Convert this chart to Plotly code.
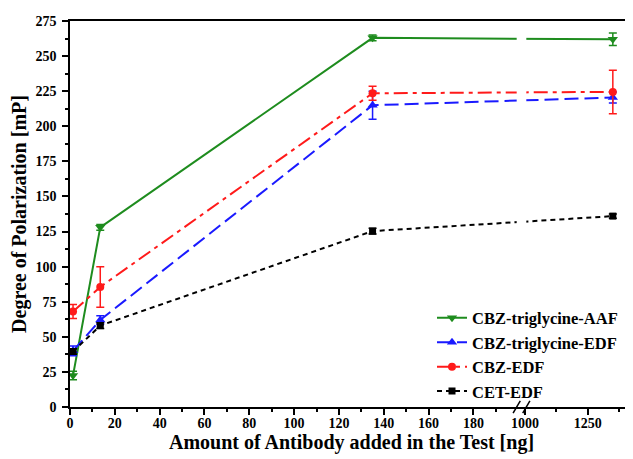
import plotly.graph_objects as go

# ---- data ----
amount_ng = [1.35, 13.5, 135, 1350]

aaf_names = "CBZ-triglycine-AAF"
aaf_vals = [22.5, 128, 263, 262]
aaf_err = [3, 2, 2, 4.5]

tri_edf_name = "CBZ-triglycine-EDF"
tri_edf_vals = [40, 62, 215, 220.5]
tri_edf_err = [3.5, 3, 10, 4]

cbz_edf_name = "CBZ-EDF"
cbz_edf_vals = [68, 85.5, 223.5, 224.5]
cbz_edf_err = [5, 14.5, 5, 15.5]

cet_edf_name = "CET-EDF"
cet_edf_vals = [39.5, 58, 125.3, 136]
cet_edf_err = [2, 2, 2, 1.5]

x_major_ticks = [0, 20, 40, 60, 80, 100, 120, 140, 160, 180, 1000, 1250]
x_minor_ticks = [10, 30, 50, 70, 90, 110, 130, 150, 170, 190, 1125, 1375]
y_ticks = [0, 25, 50, 75, 100, 125, 150, 175, 200, 225, 250, 275]

# ---- broken x-axis mapping (0-200 linear, then 1000+ compressed) ----
SEG1_END = 200
SEG2_START = 1000
SEG2_POS = 203.0
SEG2_SCALE = 0.112


def to_axis(x):
    if x <= SEG1_END:
        return x
    return SEG2_POS + (x - SEG2_START) * SEG2_SCALE


xd = [to_axis(v) for v in amount_ng]

FONT = "Liberation Serif, Times New Roman, serif"

series = [
    (aaf_names, aaf_vals, aaf_err, "#1e8c1e", "solid", "triangle-down", 9),
    (tri_edf_name, tri_edf_vals, tri_edf_err, "#1a1aff", "14px,6px", "triangle-up", 9),
    (cbz_edf_name, cbz_edf_vals, cbz_edf_err, "#ff1a1a", "14px,5px,4px,5px", "circle", 8),
    (cet_edf_name, cet_edf_vals, cet_edf_err, "#000000", "5px,4px", "square", 7),
]

fig = go.Figure()
for name, vals, err, col, dash, sym, size in series:
    fig.add_trace(go.Scatter(
        x=xd, y=vals, name=name, mode="lines+markers",
        line=dict(color=col, width=2, dash=dash),
        marker=dict(symbol=sym, size=size, color=col),
        error_y=dict(type="data", array=err, visible=True, color=col,
                     thickness=1.5, width=4),
    ))

# axis break: white gap through the lines and // marks on the axis
gap_lo, gap_hi = 199.3, 203.6
fig.add_shape(type="rect", xref="x", yref="y", x0=gap_lo, x1=gap_hi, y0=1, y1=273,
              fillcolor="white", line=dict(width=0), layer="above")
for xc in (gap_lo, gap_hi):
    fig.add_shape(type="line", xref="x", yref="paper",
                  x0=xc - 1.6, x1=xc + 1.6, y0=-0.016, y1=0.016,
                  line=dict(color="black", width=1.5), layer="above")

# the page body adds an 8px offset, so the figure is 8px smaller on each axis
fig.update_layout(
    width=625, height=451,
    margin=dict(l=62, r=0, t=13, b=52),
    paper_bgcolor="white", plot_bgcolor="white",
    font=dict(family=FONT, size=14, color="black", weight="bold"),
    showlegend=True,
    legend=dict(x=0.643, xanchor="left", y=-0.004, yanchor="bottom",
                bgcolor="rgba(0,0,0,0)", font=dict(size=16.5, family=FONT, weight="bold"),
                tracegroupgap=0),
    xaxis=dict(
        range=[0, 251.2],
        automargin=False,
        tickmode="array",
        tickvals=[to_axis(v) for v in x_major_ticks],
        ticktext=[str(v) for v in x_major_ticks],
        ticks="outside", ticklen=6, tickwidth=1.5, tickcolor="black",
        ticklabelstandoff=-4,
        minor=dict(tickmode="array", tickvals=[to_axis(v) for v in x_minor_ticks],
                   ticks="outside", ticklen=3, tickwidth=1.5, tickcolor="black"),
        showline=True, linecolor="black", linewidth=1.5, mirror=True,
        showgrid=False, zeroline=False,
        tickfont=dict(size=14, family=FONT, weight="bold"),
        title=dict(text="Amount of Antibody added in the Test [ng]",
                   font=dict(size=20, family=FONT, weight="bold"), standoff=2),
    ),
    yaxis=dict(
        range=[0, 275],
        automargin=False,
        tickmode="array", tickvals=y_ticks, ticktext=[str(v) for v in y_ticks],
        ticks="outside", ticklen=6, tickwidth=1.5, tickcolor="black",
        ticklabelstandoff=3,
        minor=dict(dtick=12.5, ticks="outside", ticklen=3, tickwidth=1.5, tickcolor="black"),
        showline=True, linecolor="black", linewidth=1.5, mirror=True,
        showgrid=False, zeroline=False,
        tickfont=dict(size=14, family=FONT, weight="bold"),
        title=dict(text="Degree of Polarization [mP]",
                   font=dict(size=20, family=FONT, weight="bold"), standoff=6),
    ),
)

fig.write_html("out.html")
